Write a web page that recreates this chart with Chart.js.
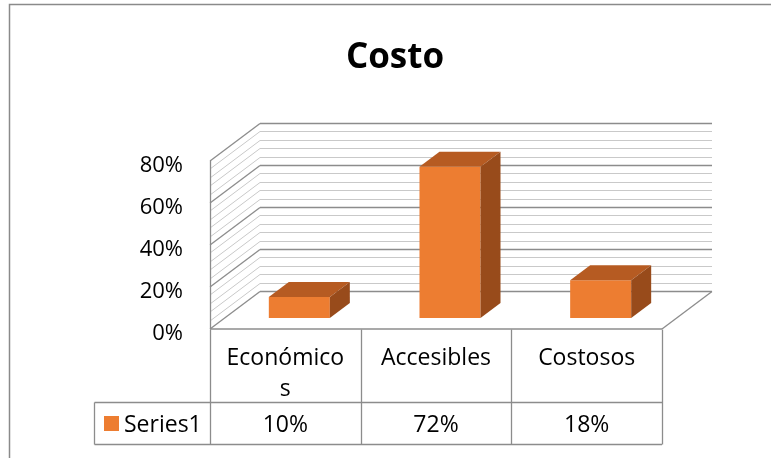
<!DOCTYPE html>
<html>
<head>
<meta charset="utf-8">
<script src="https://cdn.jsdelivr.net/npm/chart.js@4.4.0/dist/chart.umd.min.js"></script>
<style>
  body { margin: 0; background: #fff; }
  #costoChart { display: block; }
</style>
</head>
<body>
<canvas id="costoChart" width="771" height="458"></canvas>
<script>
// data
const categories = ['Económicos', 'Accesibles', 'Costosos'];
const seriesName = 'Series1';
const values = [10, 72, 18];
const yMax = 80;
const yStep = 20;
const minorStep = 4;

const FONT = 'Open Sans';
const orange = '#ED7D31';
const orangeTop = '#B65B22';
const orangeSide = '#984B1B';
const majorGrid = '#8c8c8c';
const minorGrid = '#c9c9c9';

// offsets of front wall and back wall relative to the plane of the bar faces
const front = { dx: -14, dy: 10.5 };
const back = { dx: 36, dy: -27 };
const barDepth = { dx: 20, dy: -15 };

function line(ctx, x1, y1, x2, y2) {
    ctx.beginPath();
    ctx.moveTo(x1, y1);
    ctx.lineTo(x2, y2);
    ctx.stroke();
}

function wrapText(ctx, text, maxW) {
    const out = [];
    let cur = '';
    for (const ch of text) {
        if (ctx.measureText(cur + ch).width > maxW && cur) {
            out.push(cur);
            cur = ch;
        } else {
            cur += ch;
        }
    }
    out.push(cur);
    return out;
}

const walls = {
    id: 'walls',
    beforeDatasetsDraw(chart) {
        const { ctx, chartArea: a, scales: { y } } = chart;
        ctx.save();
        ctx.lineWidth = 1;
        // minor first, major on top
        [false, true].forEach(function(majorPass) {
            for (let v = 0; v <= yMax; v += minorStep) {
                const isMajor = v % yStep === 0;
                if (isMajor !== majorPass) continue;
                const yp = Math.round(y.getPixelForValue(v)) + 0.5;
                ctx.strokeStyle = isMajor ? majorGrid : minorGrid;
                ctx.lineWidth = isMajor ? 1.3 : 1;
                line(ctx, a.left + back.dx, yp + back.dy, a.right + back.dx, yp + back.dy);
                line(ctx, a.left + front.dx, yp + front.dy, a.left + back.dx, yp + back.dy);
            }
        });
        // left wall front edge and floor
        const y0 = Math.round(y.getPixelForValue(0)) + 0.5;
        const yTop = Math.round(y.getPixelForValue(yMax)) + 0.5;
        ctx.strokeStyle = majorGrid;
        ctx.lineWidth = 1.3;
        line(ctx, a.left + front.dx + 0.5, yTop + front.dy, a.left + front.dx + 0.5, y0 + front.dy);
        line(ctx, a.left + front.dx, y0 + front.dy, a.right + front.dx, y0 + front.dy);
        line(ctx, a.right + front.dx, y0 + front.dy, a.right + back.dx, y0 + back.dy);
        ctx.restore();
    },
    afterDatasetsDraw(chart) {
        const { ctx } = chart;
        const meta = chart.getDatasetMeta(0);
        ctx.save();
        meta.data.forEach(function(bar) {
            const p = bar.getProps(['x', 'y', 'base', 'width'], true);
            const l = p.x - p.width / 2, r = p.x + p.width / 2;
            const dx = barDepth.dx, dy = barDepth.dy;
            ctx.fillStyle = orangeTop;
            ctx.beginPath();
            ctx.moveTo(l, p.y);
            ctx.lineTo(r, p.y);
            ctx.lineTo(r + dx, p.y + dy);
            ctx.lineTo(l + dx, p.y + dy);
            ctx.closePath();
            ctx.fill();
            ctx.fillStyle = orangeSide;
            ctx.beginPath();
            ctx.moveTo(r, p.y);
            ctx.lineTo(r + dx, p.y + dy);
            ctx.lineTo(r + dx, p.base + dy);
            ctx.lineTo(r, p.base);
            ctx.closePath();
            ctx.fill();
        });
        ctx.restore();
    },
    afterDraw(chart) {
        const { ctx, chartArea: a, scales: { x, y } } = chart;
        ctx.save();
        // outer frame
        ctx.strokeStyle = '#8a8a8a';
        ctx.lineWidth = 1.5;
        ctx.strokeRect(9.5, 4.5, 900, 600);

        // title
        ctx.fillStyle = '#000';
        ctx.textAlign = 'center';
        ctx.textBaseline = 'alphabetic';
        ctx.font = 'bold 35px "' + FONT + '"';
        ctx.fillText('Costo', 395, 68);

        // data table
        const catW = (a.right - a.left) / categories.length;
        const top = Math.round(y.getPixelForValue(0) + front.dy) + 0.5;
        const rowTop = 402.5, rowBottom = 444.5, tableLeft = 94.5;
        const edges = categories.map((c, i) => x.getPixelForValue(i) - catW / 2 + front.dx);
        edges.push(a.right + front.dx);
        ctx.strokeStyle = majorGrid;
        ctx.lineWidth = 1.3;
        edges.forEach(function(ex) {
            const xx = Math.round(ex) + 0.5;
            line(ctx, xx, top, xx, rowBottom);
        });
        line(ctx, tableLeft, rowTop, edges[edges.length - 1], rowTop);
        line(ctx, tableLeft, rowBottom, edges[edges.length - 1], rowBottom);
        line(ctx, tableLeft, rowTop, tableLeft, rowBottom);

        ctx.font = '23px "' + FONT + '"';
        ctx.fillStyle = '#000';
        categories.forEach(function(c, i) {
            const cx = x.getPixelForValue(i) + front.dx;
            const lines = wrapText(ctx, c, catW - 28);
            lines.forEach(function(t, k) {
                ctx.fillText(t, cx, 365 + k * 31);
            });
            ctx.fillText(values[i] + '%', cx, 432);
        });
        // legend key
        ctx.fillStyle = orange;
        ctx.fillRect(104, 416, 15, 15);
        ctx.fillStyle = '#000';
        ctx.textAlign = 'left';
        ctx.fillText(seriesName, 124, 432);
        ctx.restore();
    }
};

new Chart(document.getElementById('costoChart'), {
    type: 'bar',
    data: {
        labels: categories,
        datasets: [{
            label: seriesName,
            data: values,
            backgroundColor: orange,
            borderWidth: 0,
            barPercentage: 0.405,
            categoryPercentage: 1
        }]
    },
    options: {
        responsive: false,
        animation: false,
        layout: { padding: { left: 0, right: 95, top: 150, bottom: 140 } },
        plugins: {
            legend: { display: false },
            tooltip: { enabled: false }
        },
        scales: {
            x: { display: false },
            y: {
                min: 0,
                max: yMax,
                ticks: {
                    stepSize: yStep,
                    padding: 41,
                    labelOffset: 15.5,
                    color: '#000',
                    font: { family: FONT, size: 22 },
                    callback: v => v + '%'
                },
                grid: { display: false, drawTicks: false },
                border: { display: false },
                afterFit(scale) { scale.width = 224; }
            }
        }
    },
    plugins: [walls]
});
</script>
</body>
</html>
